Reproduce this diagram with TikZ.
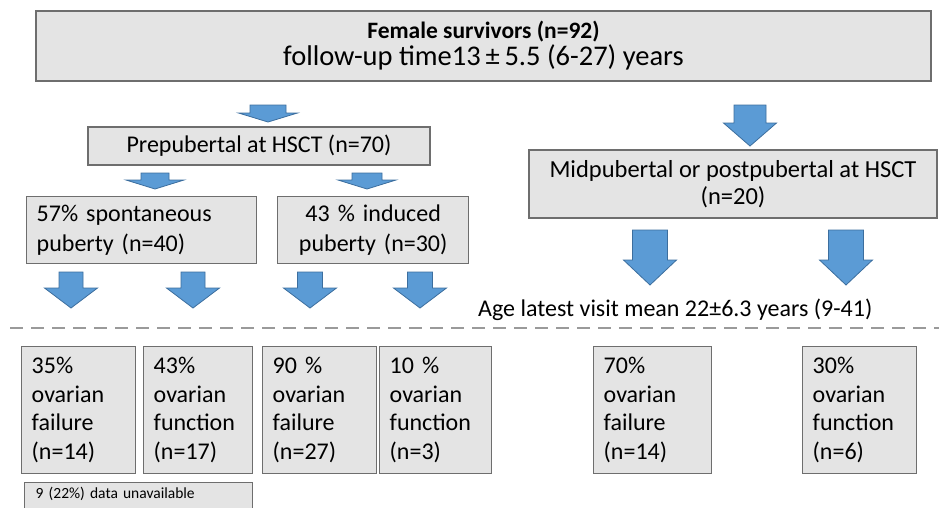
\documentclass[tikz,border=0pt]{standalone}
\usepackage{fontspec}
\setmainfont{Carlito}
\definecolor{boxfill}{HTML}{E4E4E4}
\definecolor{boxline}{HTML}{6E6E6E}
\definecolor{arrfill}{HTML}{5B9BD5}
\definecolor{arrline}{HTML}{3C6E9E}
\definecolor{dashgray}{HTML}{9A9A9A}
\tikzset{
  gbox/.style={draw=boxline, fill=boxfill, line width=1.4pt, inner sep=0pt, rectangle},
  bigfont/.style={font=\fontsize{24}{30}\selectfont},
  outbox/.style={gbox, anchor=north west, minimum height=127pt, inner xsep=10pt, align=left,
                 font=\fontsize{24}{28.5}\selectfont},
  blockarr/.style={fill=arrfill, draw=arrline, line width=0.8pt, line join=miter},
  pics/barrow/.style n args={4}{code={
    \path[blockarr] (-#1,0) -- (#1,0) -- (#1,#3) -- (#2,#3) -- (0,#4) -- (-#2,#3) -- (-#1,#3) -- cycle;
  }},
}
\begin{document}
\begin{tikzpicture}[x=1pt,y=-1pt]
\useasboundingbox (0,0) rectangle (939,507);
\clip (0,0) rectangle (939,507);

% top box
\node[gbox, minimum width=895pt, minimum height=70pt, align=center,
      font=\fontsize{28.5}{27}\selectfont] (top) at (483.5,46)
  {{\fontsize{23.5}{27}\selectfont\bfseries Female survivors (n=92)}\\follow-up time13\,±\,5.5 (6-27) years};

% second level
\node[gbox, bigfont, minimum width=342pt, minimum height=38pt] (prep) at (259,146) {Prepubertal at HSCT (n=70)};
\node[gbox, minimum width=408pt, minimum height=68pt, align=center, font=\fontsize{24.5}{27}\selectfont]
  (mid) at (733,184) {Midpubertal or postpubertal at HSCT\\(n=20)};

% third level
\node[gbox, anchor=north west, minimum width=230pt, minimum height=67pt, inner xsep=10pt,
      text width=210pt, align=left, bigfont] (spont) at (26,196) {57\% spontaneous\\puberty (n=40)};
\node[gbox, anchor=north west, minimum width=191pt, minimum height=67pt, inner xsep=6pt,
      text width=179pt, align=center, bigfont] (induced) at (277,196) {43 \% induced\\puberty (n=30)};

% arrows
\pic (a0) at (268,105) {barrow={18}{29.5}{8}{17}};
\pic (a1) at (155,173) {barrow={14}{29}{7}{16}};
\pic (a2) at (367,173) {barrow={15}{29}{7}{16}};
\pic (a3) at (71,272) {barrow={12}{26.5}{16}{36}};
\pic (a4) at (193,272) {barrow={12}{26.5}{16}{36}};
\pic (a5) at (310,272) {barrow={12.5}{26.5}{16}{36}};
\pic (a6) at (420,272) {barrow={12.5}{26.5}{16}{36}};
\pic (a7) at (750,105) {barrow={16}{26.5}{18}{41}};
\pic (a8) at (650,230) {barrow={17.5}{26.5}{30}{55}};
\pic (a9) at (846,230) {barrow={17.5}{26.5}{30}{55}};

% age text and dashed line
\node[anchor=base west, inner sep=0pt, font=\fontsize{24}{28}\selectfont] (age) at (478,316)
  {Age latest visit mean 22±6.3 years (9-41)};
\coordinate (dl) at (10,328);
\coordinate (dr) at (939,328);
\draw[dashgray, line width=2.5pt, dash pattern=on 13pt off 8pt] (dl) -- (dr);

% outcome boxes
\node[outbox, minimum width=114pt, text width=94pt] (b1) at (21,346) {35\%\\ovarian\\failure\\(n=14)};
\node[outbox, minimum width=109pt, text width=89pt] (b2) at (143,346) {43\%\\ovarian\\function\\(n=17)};
\node[outbox, minimum width=114pt, text width=94pt] (b3) at (262,346) {90 \%\\ovarian\\failure\\(n=27)};
\node[outbox, minimum width=112pt, text width=92pt] (b4) at (379,346) {10 \%\\ovarian\\function\\(n=3)};
\node[outbox, minimum width=118pt, text width=98pt] (b5) at (593,346) {70\%\\ovarian\\failure\\(n=14)};
\node[outbox, minimum width=114pt, text width=94pt] (b6) at (802,346) {30\%\\ovarian\\function\\(n=6)};

% data unavailable
\node[gbox, anchor=north west, minimum width=228pt, inner xsep=11pt, inner ysep=4pt,
      text width=206pt, text depth=30pt, align=left, font=\fontsize{15.5}{18}\selectfont] (na) at (24,482)
  {9 (22\%) data unavailable};
\end{tikzpicture}
\end{document}
